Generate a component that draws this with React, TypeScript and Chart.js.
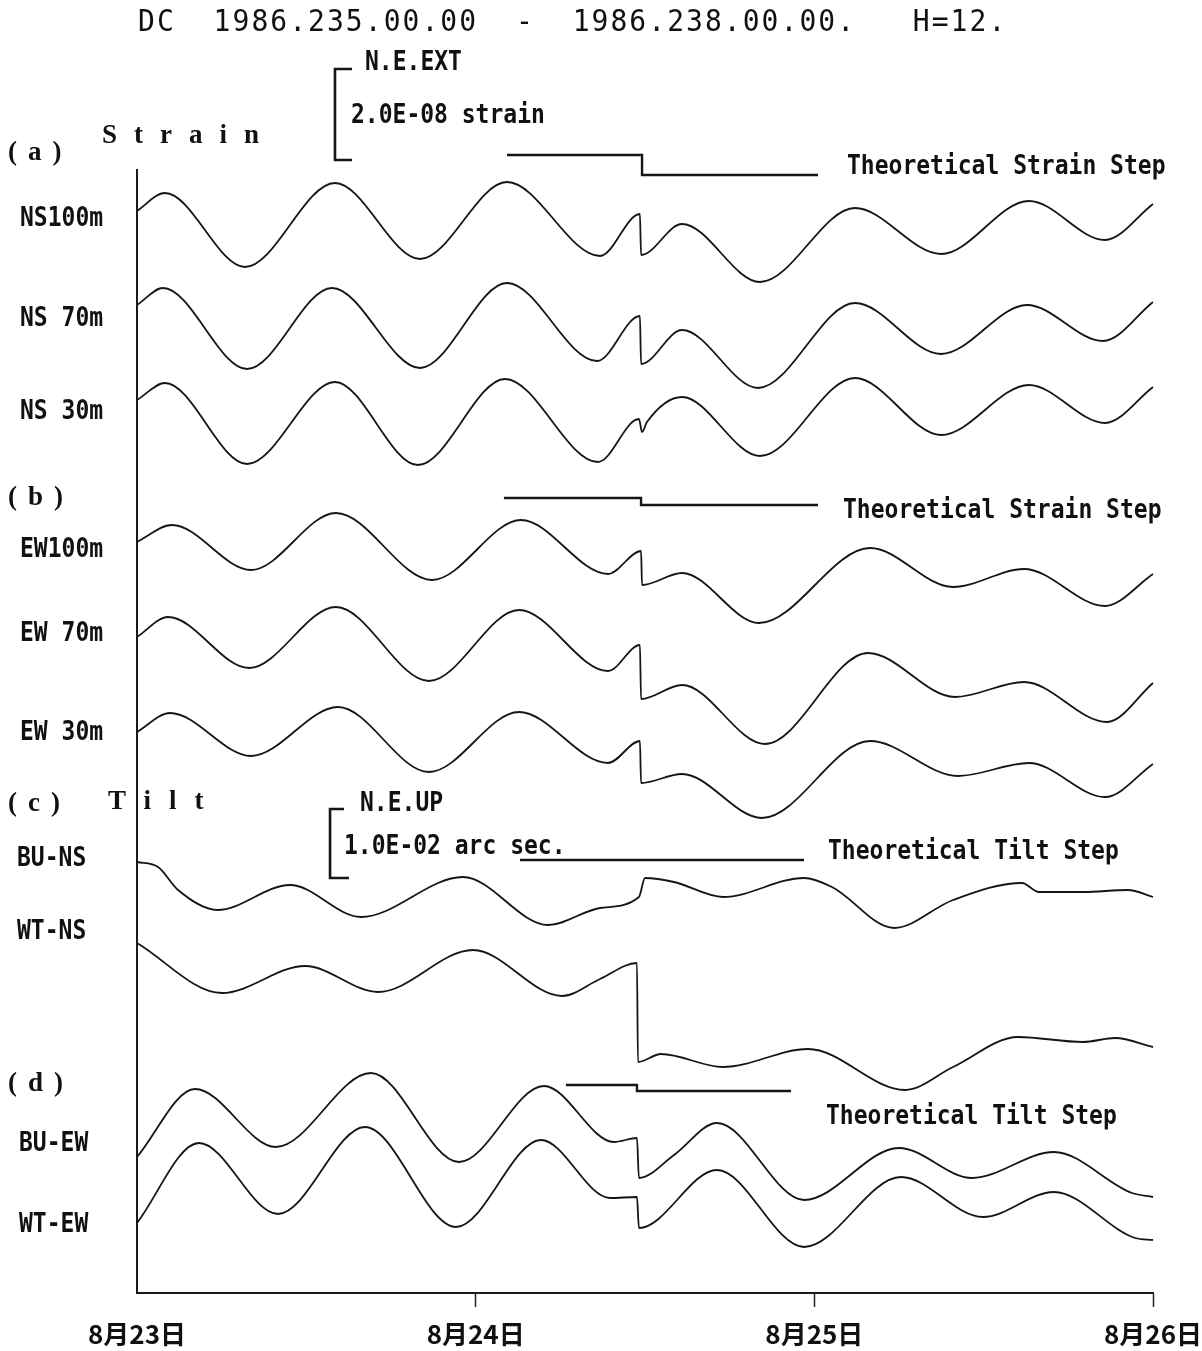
import React, { useEffect, useRef } from "react";
import { Chart, registerables } from "chart.js";

Chart.register(...registerables);

// Time axis: hours after 1986-08-23 00:00 (day 235)
const DAY_TICKS = [0, 24, 48, 72];
const DAY_LABELS = ["8月23日", "8月24日", "8月25日", "8月26日"];

// Trace heights above the time axis (plot units), read at turning points
// (a) Strain, NS components
const NS100_H = [0, 1.98, 7.65, 14.03, 20.06, 26.22, 32.81, 35.64, 35.72, 38.62, 44.15, 50.88, 56.98, 63.21, 68.6, 72];
const NS100_V = [1082, 1100, 1026, 1110, 1034, 1111, 1037, 1079, 1038, 1069, 1011, 1085, 1039, 1092, 1053, 1089];
const NS70_H = [0, 1.84, 7.8, 13.82, 20.06, 26.22, 32.6, 35.64, 35.72, 38.62, 44.01, 50.88, 56.98, 63.07, 68.46, 72];
const NS70_V = [988, 1005, 924, 1005, 925, 1010, 932, 977, 929, 963, 905, 990, 939, 988, 952, 991];
const NS30_H = [0, 1.98, 7.8, 14.03, 19.91, 26.08, 32.67, 35.57, 35.79, 36.14, 38.62, 44.15, 50.88, 56.98, 63.21, 68.6, 72];
const NS30_V = [893, 910, 829, 911, 828, 914, 831, 874, 861, 871, 896, 837, 915, 858, 908, 870, 906];

// (b) Strain, EW components
const EW100_H = [0, 2.48, 8.08, 14.1, 20.91, 27.21, 33.38, 35.72, 35.79, 38.62, 44.08, 51.95, 57.83, 62.86, 68.6, 72];
const EW100_V = [751, 768, 723, 780, 713, 773, 719, 742, 708, 720, 670, 745, 706, 724, 687, 719];
const EW70_H = [0, 2.2, 7.94, 14.1, 20.69, 27.07, 33.38, 35.64, 35.72, 38.62, 44.5, 51.8, 57.97, 62.86, 68.74, 72];
const EW70_V = [656, 676, 625, 686, 612, 683, 622, 648, 594, 608, 549, 640, 596, 611, 571, 610];
const EW30_H = [0, 2.34, 8.08, 14.24, 20.69, 27.07, 33.38, 35.64, 35.72, 38.62, 44.29, 51.95, 58.18, 63.21, 68.6, 72];
const EW30_V = [561, 580, 537, 586, 521, 581, 530, 552, 510, 519, 475, 552, 517, 530, 496, 529];

// (c) Tilt, NS components
const BUNS_H = [0, 1.49, 2.91, 5.7, 10.84, 15.87, 23.1, 29.13, 32.81, 35.57, 36.0, 38.06, 41.53, 47.27, 49.25, 53.65, 57.83, 62.72, 63.92, 67.04, 70.23, 72];
const BUNS_V = [431, 426, 403, 383, 408, 376, 416, 368, 385, 396, 415, 411, 396, 415, 406, 365, 393, 410, 401, 401, 403, 396];
const WTNS_H = [0, 6.02, 11.91, 17.08, 23.81, 30.12, 32.81, 35.43, 35.5, 37.13, 41.53, 47.55, 54.43, 57.83, 62.43, 67.04, 69.31, 72];
const WTNS_V = [350, 300, 327, 301, 343, 297, 314, 330, 231, 239, 226, 244, 203, 226, 256, 251, 255, 246];

// (d) Tilt, EW components
const BUEW_H = [0, 4.11, 9.85, 16.58, 22.82, 28.84, 33.8, 35.43, 35.57, 38.06, 41.1, 47.27, 54.0, 59.17, 64.98, 70.51, 72];
const BUEW_V = [136, 204, 146, 220, 131, 207, 151, 155, 115, 138, 170, 93, 145, 115, 141, 100, 96];
const WTEW_H = [0, 4.39, 9.99, 16.16, 22.61, 28.63, 33.52, 35.43, 35.57, 41.1, 47.27, 54.14, 59.95, 64.98, 70.73, 72];
const WTEW_V = [70, 150, 79, 166, 66, 153, 95, 96, 65, 123, 46, 116, 76, 101, 55, 53];

// Theoretical steps
const STEP_A_H = [26.22, 35.79, 35.79, 48.26];
const STEP_A_V = [1138, 1138, 1118, 1118];
const STEP_B_H = [26.0, 35.72, 35.72, 48.26];
const STEP_B_V = [795, 795, 788, 788];
const STEP_C_H = [27.14, 47.27];
const STEP_C_V = [433, 433];
const STEP_D_H = [30.4, 35.43, 35.43, 46.35];
const STEP_D_V = [208, 208, 202, 202];

// Scale bars (2.0E-08 strain, 1.0E-02 arc sec.)
const STRAIN_BAR_H = [15.24, 14.03, 14.03, 15.24];
const STRAIN_BAR_V = [1224, 1224, 1133, 1133];
const TILT_BAR_H = [14.67, 13.68, 13.68, 15.02];
const TILT_BAR_V = [484, 484, 415, 415];

const INK = "#151515";

const pts = (h: number[], v: number[]) => h.map((x, i) => ({ x, y: v[i] }));

const trace = (h: number[], v: number[]) => ({
  data: pts(h, v),
  borderColor: INK,
  borderWidth: 1.8,
  pointRadius: 0,
  fill: false,
  cubicInterpolationMode: "monotone" as const,
  clip: false as const,
});

const straight = (h: number[], v: number[], w = 2.4) => ({
  data: pts(h, v),
  borderColor: INK,
  borderWidth: w,
  pointRadius: 0,
  fill: false,
  tension: 0,
  clip: false as const,
});

type TProps = {
  x: number;
  y: number;
  size: number;
  family?: string;
  weight?: string | number;
  ls?: number;
  sy?: number;
  children: React.ReactNode;
};

const MONO = '"DejaVu Sans Mono", "Liberation Mono", monospace';
const SERIF = '"Liberation Serif", "DejaVu Serif", serif';

function T({ x, y, size, family = MONO, weight = "bold", ls = 0, sy = 1.15, children }: TProps) {
  return (
    <div
      style={{
        position: "absolute",
        left: x,
        top: y,
        fontFamily: family,
        fontSize: size,
        fontWeight: weight as any,
        letterSpacing: ls,
        lineHeight: 1,
        whiteSpace: "pre",
        color: "#111",
        transform: `translateY(-50%) scaleY(${sy})`,
        transformOrigin: "left center",
      }}
    >
      {children}
    </div>
  );
}

export default function App() {
  const ref = useRef<HTMLCanvasElement>(null);

  useEffect(() => {
    if (!ref.current) return;
    const chart = new Chart(ref.current, {
      type: "line",
      data: {
        datasets: [
          trace(NS100_H, NS100_V),
          trace(NS70_H, NS70_V),
          trace(NS30_H, NS30_V),
          trace(EW100_H, EW100_V),
          trace(EW70_H, EW70_V),
          trace(EW30_H, EW30_V),
          trace(BUNS_H, BUNS_V),
          trace(WTNS_H, WTNS_V),
          trace(BUEW_H, BUEW_V),
          trace(WTEW_H, WTEW_V),
          straight(STEP_A_H, STEP_A_V),
          straight(STEP_B_H, STEP_B_V),
          straight(STEP_C_H, STEP_C_V),
          straight(STEP_D_H, STEP_D_V),
          straight(STRAIN_BAR_H, STRAIN_BAR_V, 2.6),
          straight(TILT_BAR_H, TILT_BAR_V, 2.6),
        ] as any,
      },
      options: {
        responsive: false,
        maintainAspectRatio: false,
        devicePixelRatio: 1,
        animation: false,
        events: [],
        layout: { padding: { left: 137, right: 49, top: 170, bottom: 0 } },
        plugins: { legend: { display: false }, tooltip: { enabled: false }, title: { display: false } },
        scales: {
          x: {
            type: "linear",
            position: "bottom",
            min: 0,
            max: 72,
            afterBuildTicks: (s: any) => {
              s.ticks = DAY_TICKS.map((value) => ({ value }));
            },
            afterFit: (s: any) => {
              s.height = 58;
              s.paddingLeft = 0;
              s.paddingRight = 0;
            },
            ticks: {
              autoSkip: false,
              maxRotation: 0,
              padding: 12,
              color: "#111",
              font: { family: '"Noto Sans CJK JP", sans-serif', size: 26, weight: "bold" },
              callback: (value: any) => DAY_LABELS[DAY_TICKS.indexOf(Number(value))] ?? "",
            },
            grid: {
              drawOnChartArea: false,
              drawTicks: true,
              tickLength: 14,
              tickWidth: 1.5,
              tickColor: (ctx: any) => (ctx.tick && ctx.tick.value === 0 ? "rgba(0,0,0,0)" : "#222"),
            },
            border: { display: true, color: "#1a1a1a", width: 2 },
          },
          y: {
            type: "linear",
            min: 0,
            max: 1123,
            ticks: { display: false },
            grid: { drawOnChartArea: false, drawTicks: false },
            border: { display: true, color: "#1a1a1a", width: 2 },
            afterFit: (s: any) => {
              s.width = 0;
            },
          },
        },
      } as any,
    });
    return () => chart.destroy();
  }, []);

  return (
    <div
      style={{
        position: "absolute",
        left: 0,
        top: 0,
        width: 1202,
        height: 1351,
        background: "#fff",
        overflow: "hidden",
      }}
    >
      <canvas
        ref={ref}
        width={1202}
        height={1351}
        style={{ position: "absolute", left: 0, top: 0, display: "block" }}
      />

      <T x={138} y={22} size={28} weight="normal" ls={2.04} sy={1.05}>
        {"DC  1986.235.00.00  -  1986.238.00.00.   H=12."}
      </T>

      <T x={365} y={61} size={23}>N.E.EXT</T>
      <T x={351} y={114} size={23}>2.0E-08 strain</T>

      <T x={8} y={151} size={27} family={SERIF} ls={11} sy={1}>(a)</T>
      <T x={102} y={134} size={27} family={SERIF} ls={17} sy={1}>Strain</T>
      <T x={847} y={165} size={23}>Theoretical Strain Step</T>

      <T x={20} y={217} size={23}>NS100m</T>
      <T x={20} y={317} size={23}>NS 70m</T>
      <T x={20} y={410} size={23}>NS 30m</T>

      <T x={8} y={496} size={27} family={SERIF} ls={11} sy={1}>(b)</T>
      <T x={843} y={509} size={23}>Theoretical Strain Step</T>

      <T x={20} y={548} size={23}>EW100m</T>
      <T x={20} y={632} size={23}>EW 70m</T>
      <T x={20} y={731} size={23}>EW 30m</T>

      <T x={8} y={802} size={27} family={SERIF} ls={11} sy={1}>(c)</T>
      <T x={108} y={800} size={27} family={SERIF} ls={18} sy={1}>Tilt</T>
      <T x={360} y={802} size={23}>N.E.UP</T>
      <T x={344} y={845} size={23}>1.0E-02 arc sec.</T>
      <T x={828} y={850} size={23}>Theoretical Tilt Step</T>

      <T x={17} y={857} size={23}>BU-NS</T>
      <T x={17} y={930} size={23}>WT-NS</T>

      <T x={8} y={1082} size={27} family={SERIF} ls={11} sy={1}>(d)</T>
      <T x={826} y={1115} size={23}>Theoretical Tilt Step</T>

      <T x={19} y={1142} size={23}>BU-EW</T>
      <T x={19} y={1223} size={23}>WT-EW</T>
    </div>
  );
}
